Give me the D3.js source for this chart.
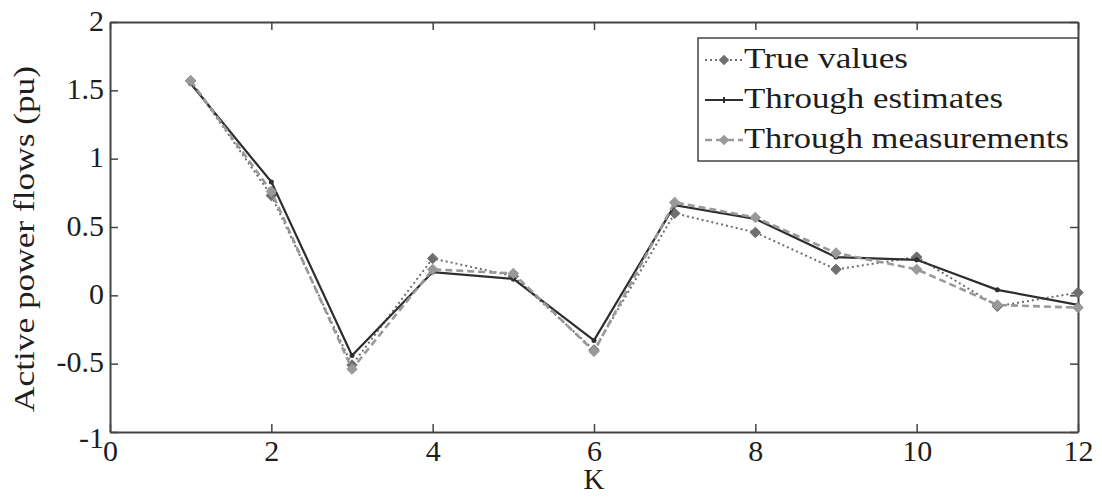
<!DOCTYPE html>
<html>
<head>
<meta charset="utf-8">
<script src="https://cdn.jsdelivr.net/npm/d3@7"></script>
<style>
  body { margin: 0; background: #fff; }
  text { font-family: "Liberation Serif", "DejaVu Serif", serif; fill: #1e1e1e; }
</style>
</head>
<body>
<svg id="chart" width="1102" height="497"></svg>
<script>
// data
const kValues = [1, 2, 3, 4, 5, 6, 7, 8, 9, 10, 11, 12];
const trueValues = [1.57, 0.73, -0.51, 0.27, 0.14, -0.40, 0.60, 0.46, 0.19, 0.28, -0.08, 0.02];
const estimates = [1.55, 0.83, -0.44, 0.17, 0.12, -0.33, 0.66, 0.56, 0.28, 0.26, 0.04, -0.07];
const measurements = [1.57, 0.76, -0.54, 0.19, 0.16, -0.41, 0.68, 0.57, 0.31, 0.19, -0.07, -0.09];
const xTicks = [0, 2, 4, 6, 8, 10, 12];
const yTicks = [-1, -0.5, 0, 0.5, 1, 1.5, 2];
const seriesNames = ["True values", "Through estimates", "Through measurements"];

var svg = d3.select("#chart");
var plotLeft = 110, plotRight = 1078, plotTop = 22, plotBottom = 432;

var x = d3.scaleLinear().domain([0, 12]).range([plotLeft, plotRight]);
var y = d3.scaleLinear().domain([-1, 2]).range([plotBottom, plotTop]);

// plain hyphen minus like the matlab export
var fmt = d => String(d);

// axes, matlab style with inward ticks on all four sides
var tickLen = 8;
svg.append("g")
  .attr("transform", `translate(0,${plotBottom})`)
  .call(d3.axisBottom(x).tickValues(xTicks).tickSizeInner(-tickLen).tickSizeOuter(0).tickPadding(8).tickFormat(fmt))
  .call(g => g.selectAll("text").style("font-size", "30px"));
svg.append("g")
  .attr("transform", `translate(0,${plotTop})`)
  .call(d3.axisTop(x).tickValues(xTicks).tickSizeInner(-tickLen).tickSizeOuter(0).tickFormat(""));
svg.append("g")
  .attr("transform", `translate(${plotLeft},0)`)
  .call(d3.axisLeft(y).tickValues(yTicks).tickSizeInner(-tickLen).tickSizeOuter(0).tickPadding(6).tickFormat(fmt))
  .call(g => g.selectAll("text").style("font-size", "30px").attr("dy", "0.27em"));
svg.append("g")
  .attr("transform", `translate(${plotRight},0)`)
  .call(d3.axisRight(y).tickValues(yTicks).tickSizeInner(-tickLen).tickSizeOuter(0).tickFormat(""));
svg.selectAll(".domain").attr("stroke", "#444").attr("stroke-width", 2);
svg.selectAll(".tick line").attr("stroke", "#444").attr("stroke-width", 1.5);

// the -1 label sits a bit low in the original, next to the 0 of the x axis
svg.selectAll("text").filter(function() { return this.textContent === "-1"; }).attr("dy", "0.5em");

svg.append("text")
  .attr("x", (plotLeft + plotRight) / 2)
  .attr("y", 489)
  .attr("text-anchor", "middle")
  .style("font-size", "29px")
  .text("K");

svg.append("text")
  .attr("transform", `translate(34,239) rotate(-90)`)
  .attr("text-anchor", "middle")
  .attr("textLength", 346)
  .attr("lengthAdjust", "spacingAndGlyphs")
  .style("font-size", "30px")
  .text("Active power flows (pu)");

const series = [
  { name: seriesNames[0], values: trueValues, color: "#6e6e6e", dash: "2,3", marker: "diamond", width: 2, textLen: 164 },
  { name: seriesNames[1], values: estimates, color: "#2e2e2e", dash: null, marker: "dot", width: 2.2, textLen: 259 },
  { name: seriesNames[2], values: measurements, color: "#999999", dash: "7,4", marker: "diamond", width: 2.6, textLen: 325 }
];

var line = d3.line().x((d, i) => x(kValues[i])).y(d => y(d));
var diamond = d3.symbol().type(d3.symbolDiamond2).size(70);

series.forEach(s => {
  svg.append("path")
    .attr("d", line(s.values))
    .attr("fill", "none")
    .attr("stroke", s.color)
    .attr("stroke-width", s.width)
    .attr("stroke-dasharray", s.dash);
  if (s.marker === "diamond") {
    svg.selectAll(null)
      .data(s.values)
      .enter()
      .append("path")
      .attr("d", diamond)
      .attr("transform", (d, i) => `translate(${x(kValues[i])},${y(d)})`)
      .attr("fill", s.color)
      .attr("stroke", s.color);
  } else {
    svg.selectAll(null)
      .data(s.values)
      .enter()
      .append("circle")
      .attr("cx", (d, i) => x(kValues[i]))
      .attr("cy", d => y(d))
      .attr("r", 2.5)
      .attr("fill", s.color);
  }
});

// legend
var lg = svg.append("g");
lg.append("rect")
  .attr("x", 698).attr("y", 38)
  .attr("width", plotRight - 698).attr("height", 123)
  .attr("fill", "#fff").attr("stroke", "#444").attr("stroke-width", 1.5);

series.forEach((s, i) => {
  var base = 68 + i * 40;
  var ly = base - 8;
  lg.append("line")
    .attr("x1", 705).attr("x2", 743)
    .attr("y1", ly).attr("y2", ly)
    .attr("stroke", s.color).attr("stroke-width", s.width)
    .attr("stroke-dasharray", s.dash);
  if (s.marker === "diamond") {
    lg.append("path").attr("d", diamond).attr("transform", `translate(724,${ly})`).attr("fill", s.color);
  } else {
    lg.append("line")
      .attr("x1", 724).attr("x2", 724).attr("y1", ly - 3).attr("y2", ly + 3)
      .attr("stroke", s.color).attr("stroke-width", 2);
  }
  lg.append("text")
    .attr("x", 744).attr("y", base)
    .attr("textLength", s.textLen)
    .attr("lengthAdjust", "spacingAndGlyphs")
    .style("font-size", "30px")
    .text(s.name);
});
</script>
</body>
</html>
